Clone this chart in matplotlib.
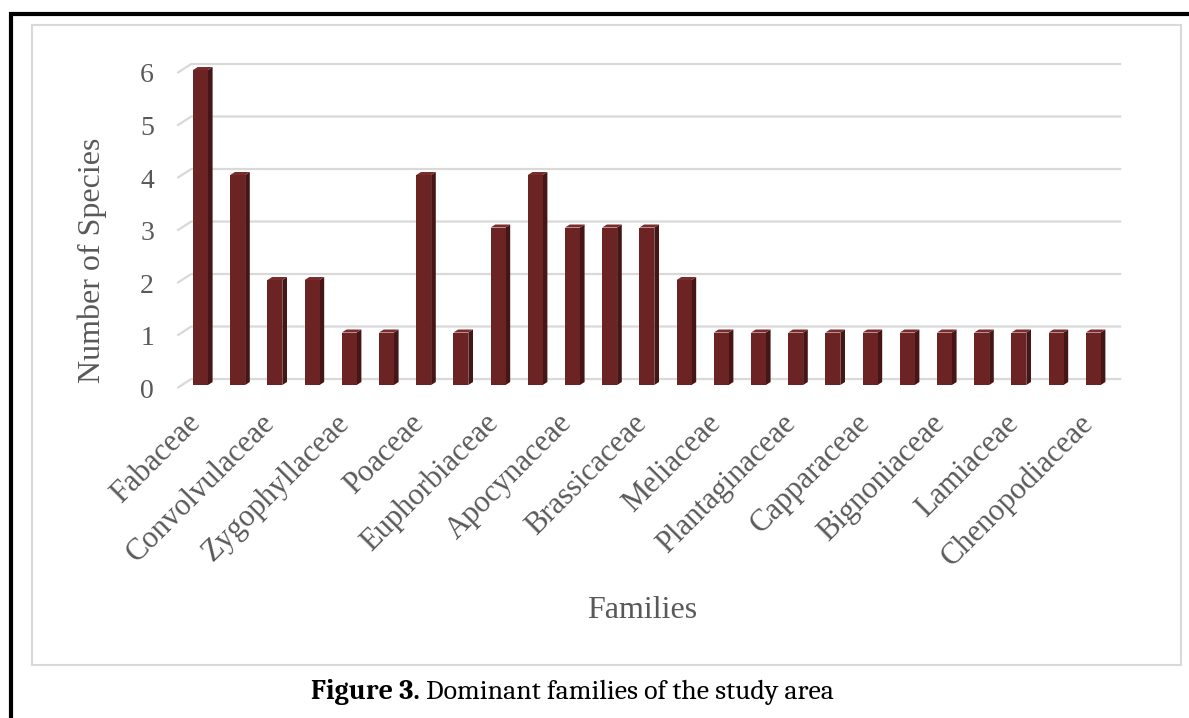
import matplotlib
matplotlib.use("Agg")
import matplotlib.pyplot as plt
from matplotlib.patches import Polygon, Rectangle
from matplotlib.lines import Line2D

# Species count per family (only every other family name is printed on the axis)
families = [
    "Fabaceae", "", "Convolvulaceae", "", "Zygophyllaceae", "", "Poaceae", "",
    "Euphorbiaceae", "", "Apocynaceae", "", "Brassicaceae", "", "Meliaceae", "",
    "Plantaginaceae", "", "Capparaceae", "", "Bignoniaceae", "", "Lamiaceae", "",
    "Chenopodiaceae",
]
species = [6, 4, 2, 2, 1, 1, 4, 1, 3, 4, 3, 3, 3, 2,
           1, 1, 1, 1, 1, 1, 1, 1, 1, 1, 1]
y_ticks = [0, 1, 2, 3, 4, 5, 6]

x_title = "Families"
y_title = "Number of Species"
caption_bold = "Figure 3."
caption_text = " Dominant families of the study area"

FRONT = "#6B2323"
SIDE = "#461515"
TOP = "#7A2B2B"
GRID = "#D9D9D9"
TEXT = "#595959"
SERIF = ["Liberation Serif", "DejaVu Serif"]
CAP_FONT = ["Caladea", "DejaVu Serif"]

W, H = 1189, 718
fig = plt.figure(figsize=(W / 100, H / 100), dpi=100)
fig.patch.set_facecolor("white")

# black frame (left and top) and the light chart-area border
fig.add_artist(Line2D([11 / W, 11 / W], [0, 1 - 12 / H], color="black", lw=3.0,
                      transform=fig.transFigure, solid_capstyle="butt"))
fig.add_artist(Line2D([9 / W, 1], [1 - 14 / H, 1 - 14 / H], color="black", lw=3.0,
                      transform=fig.transFigure, solid_capstyle="butt"))
fig.add_artist(Rectangle((32 / W, 1 - 665 / H), (1181 - 32) / W, (665 - 25) / H,
                         transform=fig.transFigure, fill=False, ec=GRID, lw=1.5))

ax = fig.add_axes([0.14592, 0.44861, 0.79781, 0.47897])
ax.set_xlim(-0.6, 24.9)
ax.set_ylim(-0.15, 6.4)
ax.set_facecolor("none")
for s in ax.spines.values():
    s.set_visible(False)

# depth of the 3-D floor, given in pixels and converted to data units
fig.canvas.draw()
p0 = ax.transData.transform((0, 0))
p1 = ax.transData.transform((1, 1))
ppx, ppy = p1[0] - p0[0], p1[1] - p0[1]
ddx, ddy = 14 / ppx, 9 / ppy


def at(x, y, t):
    """Data coordinates of a point at relative depth t (0 = front, 1 = back wall)."""
    return (x + t * ddx, y + t * ddy)


n = len(species)
x_left, x_right = -0.5, n - 0.5

# back-wall gridlines with the short diagonal along the left wall
for v in y_ticks:
    a = at(x_left, v, 0)
    b = at(x_left, v, 1)
    c = at(x_right, v, 1)
    ax.plot([a[0], b[0], c[0]], [a[1], b[1], c[1]], color=GRID, lw=1.6,
            solid_capstyle="butt", zorder=1)

# 3-D columns: front face, right side face and top face
bw = 0.4
t0, t1 = 1 / 3, 2 / 3
for i, v in enumerate(species):
    l, r = i - bw / 2, i + bw / 2
    front = [at(l, 0, t0), at(r, 0, t0), at(r, v, t0), at(l, v, t0)]
    side = [at(r, 0, t0), at(r, 0, t1), at(r, v, t1), at(r, v, t0)]
    top = [at(l, v, t0), at(r, v, t0), at(r, v, t1), at(l, v, t1)]
    ax.add_patch(Polygon(side, closed=True, fc=SIDE, ec="none", zorder=3))
    ax.add_patch(Polygon(top, closed=True, fc=TOP, ec="none", zorder=3))
    ax.add_patch(Polygon(front, closed=True, fc=FRONT, ec="none", zorder=4))

ax.set_yticks(y_ticks)
ax.set_yticklabels([str(v) for v in y_ticks], fontsize=20, color=TEXT,
                   family=SERIF)
ax.set_xticks(range(n))
ax.set_xticklabels(families, rotation=45, ha="right", va="center",
                   rotation_mode="anchor", fontsize=22, color=TEXT, family=SERIF)
ax.tick_params(axis="both", length=0)
ax.tick_params(axis="y", pad=14)
ax.tick_params(axis="x", pad=16.5)

fig.text(92 / W, 1 - 260 / H, y_title, rotation=90, ha="center", va="center",
         fontsize=23, color=TEXT, family=SERIF)
fig.text(642 / W, 1 - 610 / H, x_title, ha="center", va="center",
         fontsize=23, color=TEXT, family=SERIF)

# caption: bold figure number followed by regular text, sized to span 526 px
renderer = fig.canvas.get_renderer()
t_bold = fig.text(0, 1 - 692 / H, caption_bold, fontsize=16, weight="bold",
                  family=CAP_FONT, va="center", ha="left", color="black")
t_rest = fig.text(0, 1 - 692 / H, caption_text, fontsize=16, family=CAP_FONT,
                  va="center", ha="left", color="black")
wb = t_bold.get_window_extent(renderer).width
wr = t_rest.get_window_extent(renderer).width
scale = 526 / (wb + wr)
t_bold.set_fontsize(16 * scale)
t_rest.set_fontsize(16 * scale)
wb *= scale
wr *= scale
start = 574 - (wb + wr) / 2
t_bold.set_x(start / W)
t_rest.set_x((start + wb) / W)

fig.savefig("out.png", dpi=100, facecolor="white")
